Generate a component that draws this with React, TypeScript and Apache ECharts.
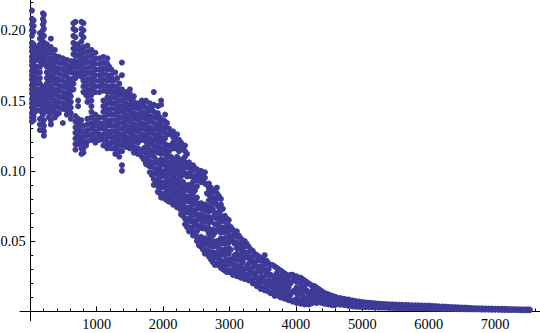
import React, { useEffect, useRef } from "react";
import * as echarts from "echarts";

// Each row: x value, then the y values (in thousandths) read in that column.
const VALUE_UNIT = 0.001;

const earlyRows: number[][] = [
  [25, 214, 208, 204, 200, 196, 191, 188, 185, 181, 178, 175, 171, 168, 165, 161, 158, 155, 151, 148, 145, 141, 138, 135],
  [50, 207, 203, 199, 190, 186, 182, 177, 172, 167, 163, 159, 156, 152, 149, 146, 143, 139, 136],
  [100, 187, 183, 179, 174, 170, 166, 162, 158, 154, 150, 147, 143],
  [145, 198, 194, 190, 186, 182, 178, 174, 170, 166, 162, 158, 155, 151, 147, 143, 137, 133, 129],
  [190, 212, 208, 204, 200, 196, 192, 188, 184, 180, 176, 160, 156, 152, 148, 144, 140, 133, 129],
  [205, 211, 206, 201, 196, 191, 186, 181, 176, 158, 154, 150, 146, 136, 132, 128, 125],
  [250, 190, 186, 182, 178, 174, 170, 166, 162, 158, 154, 150, 146, 142],
  [310, 194, 188, 184, 180, 176, 172, 168, 164, 160, 156, 152, 148, 144, 141, 136, 133],
  [370, 186, 182, 178, 174, 170, 166, 162, 158, 154, 150, 146, 142, 138],
  [430, 181, 177, 173, 169, 165, 161, 157, 153, 149, 145, 141],
  [490, 180, 176, 172, 168, 164, 160, 156, 152, 148, 144, 134],
  [550, 179, 175, 171, 167, 163, 159, 155, 151, 147, 143, 140],
  [610, 178, 174, 170, 165, 161, 157, 153, 149, 145, 141, 137],
  [650, 205, 201, 196, 191, 187, 183, 178, 174, 170, 166, 162, 158],
  [680, 206, 200, 195, 190, 186, 182, 178, 174, 170, 166, 139, 135, 131, 127, 123, 119, 115],
  [720, 190, 186, 182, 178, 174, 170, 168, 150, 146, 137, 133, 129, 125, 121, 119],
  [770, 206, 201, 197, 192, 187, 183, 179, 175, 171, 167, 136, 132, 128, 124, 120, 116, 112],
  [800, 205, 200, 195, 188, 184, 180, 176, 172, 168, 164, 160, 156, 132, 128, 124, 120, 116, 113],
  [860, 189, 185, 181, 177, 173, 169, 165, 161, 157, 153, 149, 137, 133, 129, 125, 121],
  [920, 186, 182, 178, 174, 170, 166, 162, 158, 154, 150, 146, 142, 138, 134, 130, 126, 122],
  [980, 184, 180, 176, 172, 168, 164, 160, 156, 140, 136, 132, 128, 124, 120],
  [1040, 180, 176, 172, 168, 164, 160, 156, 138, 134, 130, 126, 122],
  [1100, 181, 177, 173, 169, 165, 161, 157, 150, 146, 142, 138, 134, 130, 126, 122, 118],
  [1160, 180, 176, 172, 168, 164, 160, 156, 152, 148, 144, 140, 136, 132, 128, 124, 120, 116],
  [1220, 172, 168, 164, 160, 156, 152, 148, 144, 140, 136, 132, 128, 124, 120, 116],
  [1280, 170, 165, 160, 156, 152, 148, 144, 140, 136, 132, 128, 124, 120, 116, 112],
  [1340, 162, 158, 154, 150, 146, 142, 138, 134, 130, 126, 122, 118, 114, 110],
  [1380, 177, 168, 158, 154, 150, 146, 142, 138, 134, 130, 126, 122, 118, 114, 104, 100],
];

const midRows: number[][] = [
  [1440, 156, 152, 148, 144, 140, 136, 132, 128, 124, 120, 117],
  [1500, 158, 155, 151, 147, 143, 139, 135, 131, 127, 123, 119, 116],
  [1560, 153, 149, 145, 141, 137, 133, 129, 125, 121, 117, 113],
  [1620, 148, 144, 140, 136, 132, 128, 124, 120, 116, 112],
  [1680, 150, 146, 142, 138, 134, 130, 126, 122, 114, 110],
  [1740, 150, 145, 141, 137, 133, 129, 125, 121, 117, 113, 109, 105],
  [1800, 148, 143, 139, 135, 131, 127, 123, 119, 115, 111, 107, 103, 99],
  [1860, 156, 147, 142, 138, 134, 130, 126, 122, 118, 114, 110, 106, 102, 98, 94, 90],
  [1920, 146, 141, 137, 133, 129, 125, 121, 117, 113, 105, 101, 97, 93, 89, 85],
  [1970, 150, 147, 136, 132, 128, 124, 120, 116, 112, 108, 104, 100, 96, 92, 88, 84, 81],
  [2030, 140, 135, 131, 127, 123, 119, 115, 112, 108, 104, 100, 96, 92, 88, 84, 80],
  [2090, 130, 126, 118, 114, 110, 106, 102, 98, 94, 90, 86, 82, 78],
  [2150, 128, 124, 120, 116, 108, 104, 100, 96, 92, 88, 84, 80, 76],
  [2210, 126, 122, 118, 110, 106, 102, 98, 94, 90, 86, 82, 78, 74],
  [2270, 120, 116, 108, 104, 100, 96, 92, 88, 84, 80, 76, 72, 69],
  [2330, 118, 114, 110, 106, 102, 98, 90, 86, 82, 78, 74, 70, 66, 62],
  [2390, 106, 102, 98, 90, 86, 82, 78, 74, 70, 66, 60, 57],
  [2450, 104, 100, 96, 92, 88, 84, 80, 76, 72, 68, 64, 60, 56, 54],
  [2510, 101, 97, 93, 89, 81, 77, 73, 69, 65, 61, 57, 53, 50],
  [2570, 100, 96, 92, 77, 73, 69, 65, 61, 53, 49, 46],
  [2630, 99, 95, 91, 76, 72, 68, 64, 60, 52, 48, 44, 41],
  [2690, 91, 87, 83, 79, 75, 71, 67, 63, 59, 55, 51, 47, 43, 39],
  [2750, 85, 81, 77, 73, 67, 58, 54, 50, 46, 42, 38, 35],
  [2810, 88, 84, 80, 76, 70, 66, 62, 58, 50, 46, 42, 38, 34, 33],
  [2870, 80, 76, 72, 68, 64, 60, 56, 52, 48, 44, 40, 36, 31],
  [2930, 68, 64, 60, 56, 52, 48, 44, 40, 36, 32, 29],
  [2990, 65, 61, 57, 53, 49, 45, 41, 37, 33, 29, 28],
];

const lateRows: number[][] = [
  [3050, 58, 54, 50, 38, 34, 30, 26],
  [3110, 57, 53, 49, 45, 41, 37, 33, 29, 25],
  [3170, 52, 48, 44, 40, 36, 32, 28, 24],
  [3230, 50, 46, 42, 38, 30, 26, 23],
  [3290, 46, 42, 38, 34, 30, 26, 22],
  [3350, 43, 39, 35, 31, 27, 23, 20],
  [3410, 40, 36, 32, 28, 24, 20, 18],
  [3470, 38, 36, 32, 28, 24, 20, 16],
  [3530, 40, 36, 33, 29, 25, 21, 17, 15],
  [3590, 34, 30, 26, 22, 18, 14],
  [3650, 33, 25, 21, 17, 13],
  [3710, 31, 27, 23, 19, 15, 12],
  [3770, 29, 25, 21, 17, 13, 10],
  [3830, 27, 23, 19, 15, 11, 9],
  [3890, 25, 21, 17, 13, 9, 8],
  [3950, 26, 22, 14, 7],
  [4010, 25, 21, 17, 13, 9, 6],
  [4070, 24, 20, 16, 12, 8, 5.5],
  [4130, 22, 18, 14, 10, 6, 5],
  [4190, 20, 13, 9, 6, 5],
  [4250, 18, 15, 11, 8, 6],
  [4310, 17, 13, 10, 7, 6],
  [4370, 15, 12, 9, 6.4],
  [4430, 13, 10, 7, 5.5],
  [4490, 12, 9, 6, 5],
  [4550, 11, 8, 5.5, 4.5],
];

const fillRows: number[][] = [
  [70, 188, 180, 172, 164, 156, 148, 142],
  [170, 186, 180, 158, 150, 142],
  [280, 184, 176, 168, 160, 152, 146, 138],
  [400, 180, 172, 164, 156, 148, 140],
  [520, 176, 168, 160, 152, 146],
  [590, 172, 164, 156, 148, 142],
  [840, 178, 170, 162, 154, 126, 118],
  [950, 176, 168, 160, 132, 124],
  [1070, 172, 164, 132, 124],
  [1190, 174, 166, 158, 150, 142, 134, 126, 118],
  [1250, 164, 156, 148, 140, 132, 124, 116],
  [1310, 166, 158, 150, 142, 134, 126, 118],
  [1410, 150, 142, 134, 126, 120],
  [1470, 154, 146, 138, 130, 122, 117],
  [1530, 149, 141, 133, 125, 117],
  [1590, 147, 139, 131, 123, 115],
  [1650, 146, 138, 130, 122, 114],
  [1710, 148, 140, 132, 124, 116, 108],
  [1770, 144, 136, 128, 120, 112, 104],
  [1830, 145, 137, 129, 121, 113, 105, 97],
  [1890, 140, 132, 124, 116, 108, 100, 92],
  [1950, 138, 130, 122, 114, 106, 98, 90, 84],
  [2000, 136, 128, 120, 114, 106, 98, 90, 82],
  [2060, 134, 126, 118, 110, 102, 94, 86, 79],
  [2120, 127, 118, 110, 102, 94, 86, 78],
  [2180, 124, 116, 108, 100, 92, 84, 76],
  [2240, 122, 114, 106, 98, 90, 82, 74],
  [2300, 116, 108, 100, 92, 84, 76, 68],
  [2360, 112, 104, 96, 88, 80, 72, 64, 60],
  [2420, 103, 96, 88, 80, 72, 64, 58],
  [2480, 102, 94, 86, 78, 70, 62, 54],
  [2540, 99, 94, 75, 67, 59, 51, 47],
  [2600, 97, 93, 75, 67, 59, 51, 44],
  [2660, 90, 84, 74, 66, 58, 50, 42],
  [2720, 88, 80, 72, 64, 56, 48, 40, 37],
  [2780, 86, 78, 70, 62, 56, 48, 40, 33],
  [2840, 82, 74, 66, 58, 50, 42, 34],
  [2900, 73, 66, 58, 50, 42, 34, 30],
  [2960, 66, 59, 51, 43, 35, 28],
  [3020, 60, 52, 44, 36, 28],
  [3080, 56, 48, 40, 32, 27],
  [3140, 54, 46, 38, 30, 25],
  [3200, 50, 43, 35, 27, 24],
  [3260, 48, 40, 32, 26, 23],
  [3320, 44, 36, 28, 22],
  [3380, 41, 33, 25, 20],
  [3440, 39, 31, 23, 18],
  [3500, 38, 30, 22, 16],
  [3560, 36, 28, 20, 15],
  [3620, 33, 26, 19, 13],
  [3680, 32, 24, 16, 11],
  [3740, 30, 22, 14, 11],
  [3800, 28, 20, 12, 10],
  [3860, 26, 18, 11, 9],
  [3920, 26, 20, 12, 8],
  [3980, 25, 15, 8],
  [4040, 24, 15, 7],
  [4100, 23, 16, 8, 6],
  [4160, 21, 15, 7, 5.5],
  [4220, 19, 13, 7, 5.5],
  [4280, 18, 11, 7],
  [4340, 16, 10, 6.5],
  [4400, 14, 8, 6],
  [4460, 12.5, 8, 5.5],
  [4520, 11.5, 7, 5],
  [4580, 10.5, 6.5, 4.5],
];

const tailRows: number[][] = [
  [4610, 10, 7.5, 5],
  [4670, 9.5, 7, 4.8],
  [4730, 9, 6.5, 4.5],
  [4790, 8.5, 6, 4],
  [4850, 7.8, 5.5, 3.5],
  [4900, 7.4, 5.2, 3.4],
  [4950, 7, 5, 3.3],
  [5000, 6.7, 4.7, 3.1],
  [5050, 6.4, 4.5, 3],
  [5100, 6.2, 4.3, 3],
  [5150, 6, 4.2, 2.9],
  [5200, 5.8, 4.1, 2.8],
  [5250, 5.5, 4, 2.7],
  [5300, 5.3, 3.8, 2.6],
  [5350, 5.2, 3.7, 2.6],
  [5400, 5.1, 3.6, 2.5],
  [5450, 5, 3.5, 2.5],
  [5500, 4.9, 3.4, 2.4],
  [5550, 4.8, 3.4, 2.4],
  [5600, 4.7, 3.3, 2.3],
  [5650, 4.6, 3.2, 2.3],
  [5700, 4.5, 3.2, 2.2],
  [5750, 4.4, 3.1, 2.2],
  [5800, 4.4, 3.1, 2.1],
  [5850, 4.3, 3, 2.1],
  [5900, 4.2, 3, 2.1],
  [5950, 4.2, 3, 2.1],
  [6000, 4.1, 2.9, 2],
  [6050, 4, 2.9, 2],
  [6100, 3.8, 2.7, 1.9],
  [6150, 3.6, 2.6, 1.9],
  [6200, 3.5, 2.6, 1.8],
  [6250, 3.4, 2.5, 1.8],
  [6300, 3.2, 2.4, 1.8],
  [6350, 3.1, 2.4, 1.8],
  [6400, 3, 2.3, 1.7],
  [6450, 2.9, 2.2, 1.6],
  [6500, 2.8, 2.1, 1.6],
  [6550, 2.7, 2, 1.5],
  [6600, 2.5, 2, 1.5],
  [6650, 2.4, 1.9, 1.5],
  [6700, 2.3, 1.8, 1.4],
  [6750, 2.2, 1.7, 1.4],
  [6800, 2.2, 1.7, 1.3],
  [6850, 2.1, 1.6, 1.3],
  [6900, 2, 1.6, 1.3],
  [6950, 2, 1.5, 1.2],
  [7000, 1.9, 1.5, 1.2],
  [7050, 1.9, 1.4, 1.2],
  [7100, 1.8, 1.4, 1.1],
  [7150, 1.8, 1.3, 1.1],
  [7200, 1.7, 1.3, 1.1],
  [7250, 1.6, 1.2, 1],
  [7300, 1.6, 1.2, 1],
  [7350, 1.5, 1.1, 1],
  [7400, 1.5, 1.1, 0.9],
  [7450, 1.4, 1, 0.9],
  [7490, 1.4, 1, 0.9],
  [7520, 1.3, 0.9],
];

const xMajorTicks = [1000, 2000, 3000, 4000, 5000, 6000, 7000];
const xMinorTicks = [200, 400, 600, 800, 1200, 1400, 1600, 1800, 2200, 2400, 2600, 2800, 3200, 3400, 3600, 3800, 4200, 4400, 4600, 4800, 5200, 5400, 5600, 5800, 6200, 6400, 6600, 6800, 7200, 7400, 7600];
const yMajorTicks = [0.05, 0.1, 0.15, 0.2];
const yMinorTicks = [0.01, 0.02, 0.03, 0.04, 0.06, 0.07, 0.08, 0.09, 0.11, 0.12, 0.13, 0.14, 0.16, 0.17, 0.18, 0.19, 0.21, 0.22];

const rowsToPoints = (rows: number[][]) =>
  rows.flatMap(([x, ...ys]) => ys.map((y) => [x, y * VALUE_UNIT]));

const FONT = "'Liberation Serif', serif";
const xRange = { min: -155, max: 7676 };
const yRange = { min: -0.0066, max: 0.2215 };

export default function App() {
  const ref = useRef<HTMLDivElement>(null);
  useEffect(() => {
    const chart = echarts.init(ref.current!, undefined, { renderer: "svg" });
    const line = { color: "#000", width: 1 };
    chart.setOption({
      animation: false,
      backgroundColor: "#fff",
      grid: { left: 20, right: 0, top: 0, height: 320.7, containLabel: false, outerBoundsMode: "none" },
      xAxis: [
        {
          type: "value",
          ...xRange,
          splitLine: { show: false },
          axisLine: { show: true, onZero: true, lineStyle: line },
          axisTick: { show: true, inside: true, length: 5, lineStyle: line, customValues: xMajorTicks },
          axisLabel: { show: true, margin: -4.2, color: "#000", fontFamily: FONT, fontSize: 14.4, customValues: xMajorTicks, formatter: (v: number) => String(v) },
        },
        {
          type: "value",
          ...xRange,
          position: "bottom",
          splitLine: { show: false },
          axisLine: { show: false, onZero: true },
          axisTick: { show: true, inside: true, length: 3, lineStyle: line, customValues: xMinorTicks },
          axisLabel: { show: false },
        },
      ],
      yAxis: [
        {
          type: "value",
          ...yRange,
          splitLine: { show: false },
          axisLine: { show: true, onZero: true, lineStyle: line },
          axisTick: { show: true, inside: true, length: 5, lineStyle: line, customValues: yMajorTicks },
          axisLabel: { show: true, margin: -5.7, color: "#000", fontFamily: FONT, fontSize: 14.4, customValues: yMajorTicks, formatter: (v: number) => v.toFixed(2) },
        },
        {
          type: "value",
          ...yRange,
          position: "left",
          splitLine: { show: false },
          axisLine: { show: false, onZero: true },
          axisTick: { show: true, inside: true, length: 3, lineStyle: line, customValues: yMinorTicks },
          axisLabel: { show: false },
        },
      ],
      series: [
        {
          type: "scatter",
          xAxisIndex: 0,
          yAxisIndex: 0,
          symbol: "circle",
          symbolSize: 6,
          itemStyle: { color: "#3e3b97", opacity: 1 },
          silent: true,
          data: [
            ...rowsToPoints(earlyRows),
            ...rowsToPoints(midRows),
            ...rowsToPoints(fillRows),
            ...rowsToPoints(lateRows),
            ...rowsToPoints(tailRows),
          ],
        },
      ],
    });
    return () => chart.dispose();
  }, []);
  return (
    <div
      ref={ref}
      style={{ position: "absolute", left: 0, top: 0, width: 540, height: 333, background: "#fff" }}
    />
  );
}
